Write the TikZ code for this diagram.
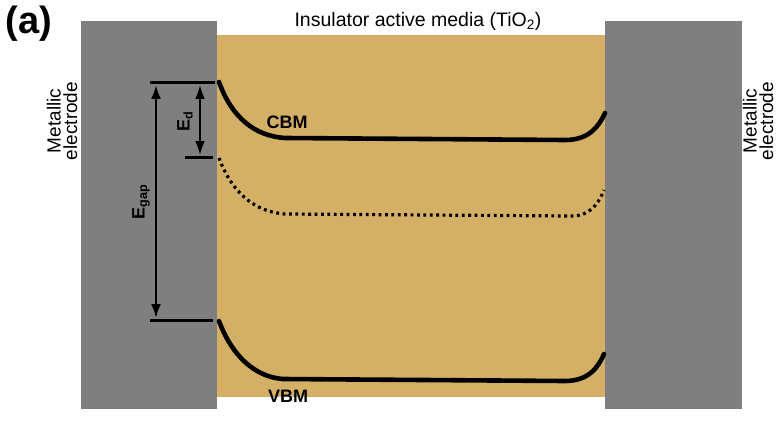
\documentclass[tikz,border=0pt]{standalone}
\usepackage{fontspec}
\setmainfont{Liberation Sans}
\usetikzlibrary{arrows.meta}
\definecolor{metal}{HTML}{7F7F7F}
\definecolor{tio}{HTML}{D4B066}
\begin{document}
\begin{tikzpicture}[x=1pt,y=-1pt,
  level/.style={line width=3pt},
  band/.style={line width=4.6pt,line cap=round},
  dotband/.style={line width=3.2pt,dash pattern=on 2.8pt off 3.6pt},
  dimarrow/.style={line width=2.3pt,{Latex[length=14pt,width=10pt]}-{Latex[length=14pt,width=10pt]}},
  lbl/.style={font=\fontsize{19.5}{21}\selectfont,inner sep=0pt},
  blbl/.style={font=\bfseries\fontsize{18}{20}\selectfont,inner sep=0pt},
  elbl/.style={rotate=90,align=center,inner sep=0pt,font=\fontsize{19}{16.5}\selectfont}]
\useasboundingbox (0,0) rectangle (778,425);
\fill[white] (0,0) rectangle (778,425);
% media
\fill[tio] (217,35) rectangle (605,397);
% electrodes
\fill[metal] (81,21) rectangle (217,409);
\fill[metal] (605,21) rectangle (742,409);
% texts
\node[font=\bfseries\fontsize{38}{40}\selectfont,inner sep=0pt] (a) at (29,24) {(a)};
\node[lbl] (title) at (418,21) {Insulator active media (TiO\textsubscript{2})};
\node[elbl] (le) at (62,121) {Metallic\\electrode};
\node[elbl] (re) at (758,121) {Metallic\\electrode};
% level marks
\coordinate (cl1) at (150,83); \coordinate (cl2) at (215,83);
\coordinate (dl1) at (185,157); \coordinate (dl2) at (213,157);
\coordinate (vl1) at (150,320); \coordinate (vl2) at (213,320);
\draw[level] (cl1) -- (cl2);
\draw[level] (dl1) -- (dl2);
\draw[level] (vl1) -- (vl2);
\coordinate (gt) at (156,85); \coordinate (gb) at (156,318);
\coordinate (dt) at (200,85); \coordinate (db) at (200,155);
\draw[dimarrow] (gt) -- (gb);
\draw[dimarrow] (dt) -- (db);
\node[blbl,rotate=90] (eg) at (141,202) {E\textsubscript{gap}};
\node[blbl,rotate=90] (ed) at (185,121) {E\textsubscript{d}};
% bands
\draw[band] (219,82) .. controls (232,118) and (255,136) .. (285,138) -- (565,140) .. controls (588,140) and (598,128) .. (605,113);
\draw[dotband] (219,158) .. controls (232,193) and (255,212) .. (285,214) -- (572,216) .. controls (590,216) and (599,203) .. (604,190);
\draw[band] (219,321) .. controls (232,356) and (255,377) .. (283,379) -- (565,381) .. controls (588,381) and (598,368) .. (604,354);
\node[blbl] (cbm) at (287,122) {CBM};
\node[blbl] (vbm) at (288,396) {VBM};
\end{tikzpicture}
\end{document}
